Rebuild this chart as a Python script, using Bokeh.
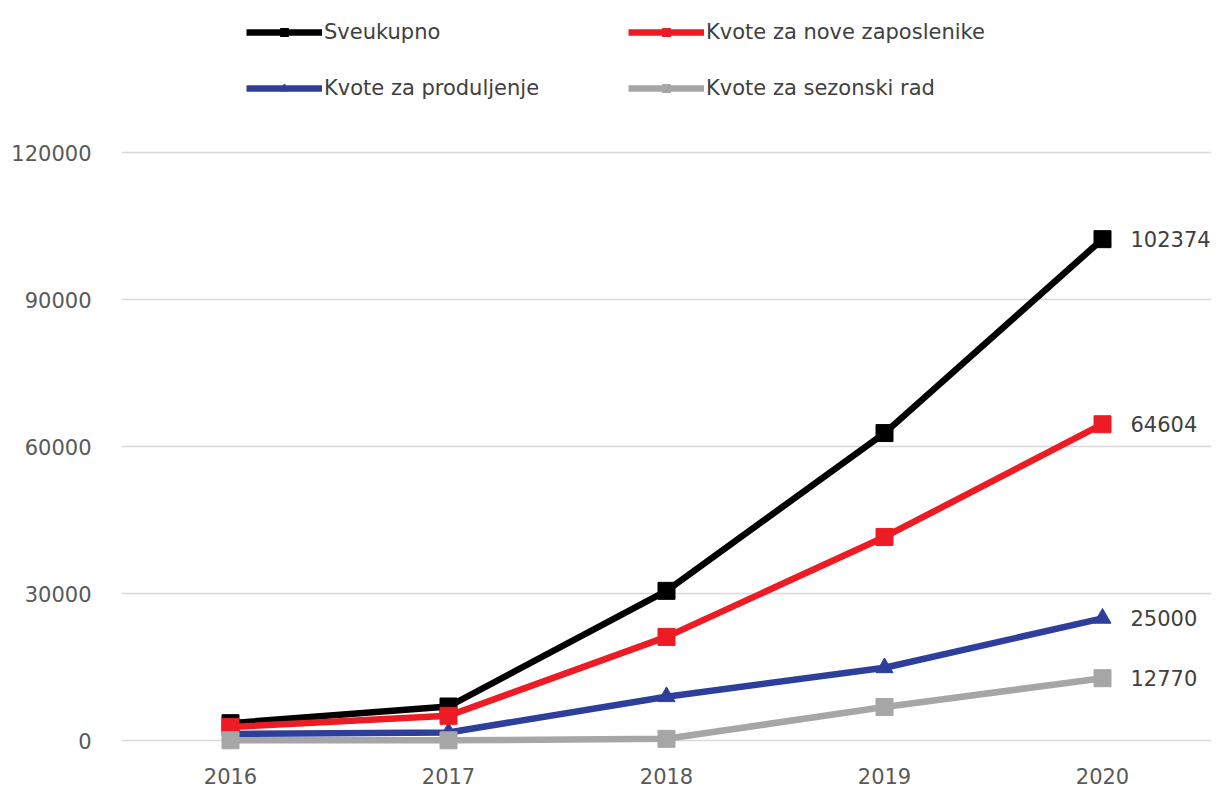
from bokeh.plotting import figure
from bokeh.models import (ColumnDataSource, Range1d, FactorRange, FixedTicker, Legend,
                          LegendItem, LabelSet, NumeralTickFormatter)
from bokeh.core.properties import value
from bokeh.embed import file_html
from bokeh.resources import INLINE

years = ["2016", "2017", "2018", "2019", "2020"]
sveukupno = [3600, 7000, 30600, 62800, 102374]
nove = [2800, 5100, 21200, 41600, 64604]
produljenje = [1400, 1700, 9000, 14900, 25000]
sezonski = [100, 100, 400, 6900, 12770]
y_ticks = [0, 30000, 60000, 90000, 120000]

names = ["Sveukupno", "Kvote za nove zaposlenike", "Kvote za produljenje", "Kvote za sezonski rad"]
series = [sveukupno, nove, produljenje, sezonski]
colors = ["#000000", "#ed1c24", "#2e3f9b", "#a6a6a6"]
markers = ["square", "square", "triangle", "square"]

FONT = "DejaVu Sans"
TXT = "#595959"
DARK = "#404040"

p = figure(frame_width=1090, frame_height=755, x_range=FactorRange(*years),
           y_range=Range1d(-3000, 151080),
           output_backend="svg", toolbar_location=None,
           min_border_left=121, min_border_right=13, min_border_top=0, min_border_bottom=35)
p.outline_line_color = None
p.background_fill_color = "white"
p.border_fill_color = "white"

p.yaxis.ticker = FixedTicker(ticks=y_ticks)
p.yaxis.formatter = NumeralTickFormatter(format="0")
p.yaxis.axis_line_color = None
p.yaxis.major_tick_line_color = None
p.yaxis.minor_tick_line_color = None
p.yaxis.major_label_standoff = 24
p.xaxis.axis_line_color = None
p.xaxis.major_tick_line_color = None
p.xaxis.major_label_standoff = 6
for ax in (p.xaxis[0], p.yaxis[0]):
    ax.major_label_text_font = FONT
    ax.major_label_text_font_size = "21px"
    ax.major_label_text_color = TXT

p.xgrid.grid_line_color = None
p.ygrid.grid_line_color = "#d9d9d9"
p.ygrid.grid_line_width = 1.5
p.ygrid.ticker = FixedTicker(ticks=y_ticks)

order = [0, 2, 1, 3]
renderers = {}
for i in order:
    src = ColumnDataSource(dict(x=years, y=series[i]))
    ln = p.line("x", "y", source=src, line_color=colors[i], line_width=6.5)
    sc = p.scatter("x", "y", source=src, marker=markers[i], size=17,
                   fill_color=colors[i], line_color=colors[i])
    renderers[i] = [ln, sc]

last = ColumnDataSource(dict(x=[years[-1]] * 4, y=[s[-1] for s in series],
                             t=[str(s[-1]) for s in series]))
labels = LabelSet(x="x", y="y", text="t", source=last, x_offset=28, y_offset=0,
                  text_font=value(FONT), text_font_size="21px", text_color=DARK,
                  text_align="left", text_baseline="middle")
p.add_layout(labels)

def make_legend(idx, x):
    lg = Legend(items=[LegendItem(label=names[i], renderers=renderers[i]) for i in idx],
                location=(x, 655), orientation="vertical",
                glyph_width=76, glyph_height=20, label_standoff=2, spacing=32,
                padding=0, margin=0, border_line_color=None,
                background_fill_alpha=0,
                label_text_font=FONT, label_text_font_size="21px", label_text_color=DARK)
    p.add_layout(lg, "center")

make_legend([0, 2], 125)
make_legend([1, 3], 507)

open("out.html", "w").write(file_html(p, INLINE))
